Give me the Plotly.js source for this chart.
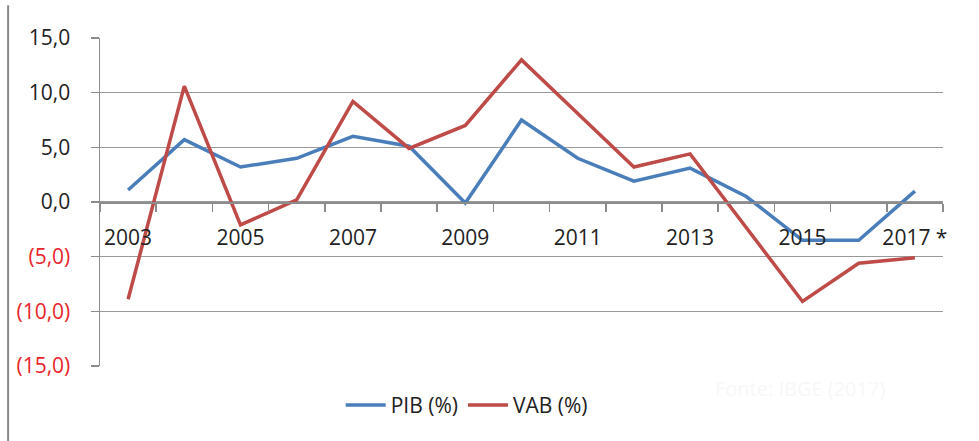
<!DOCTYPE html>
<html>
<head>
<meta charset="utf-8">
<script src="https://cdn.plot.ly/plotly-3.0.1.min.js"></script>
<style>html,body{margin:0;padding:0;background:#fff;}#chart{width:979px;height:441px;}</style>
</head>
<body>
<div id="chart"></div>
<script>
const years = ["2003","2004","2005","2006","2007","2008","2009","2010","2011","2012","2013","2014","2015","2016","2017 *"];
const pib = [1.1, 5.7, 3.2, 4.0, 6.0, 5.1, -0.1, 7.5, 4.0, 1.9, 3.1, 0.5, -3.5, -3.5, 1.0];
const vab = [-8.9, 10.6, -2.1, 0.2, 9.2, 4.9, 7.0, 13.0, 8.1, 3.2, 4.4, -2.3, -9.1, -5.6, -5.1];
const yTickVals = [15, 10, 5, 0, -5, -10, -15];
const yTickText = ["15,0", "10,0", "5,0", "0,0",
  '<span style="color:#e8262a">(5,0)</span>',
  '<span style="color:#e8262a">(10,0)</span>',
  '<span style="color:#e8262a">(15,0)</span>'];
const xLabelIdx = [0, 2, 4, 6, 8, 10, 12, 14];

const idx = years.map((_, i) => i);
const font = {family: "Open Sans, sans-serif", size: 21, color: "#222"};

const traces = [
  {x: idx, y: pib, name: "PIB (%)", type: "scatter", mode: "lines",
   line: {color: "#4a7ebb", width: 3.5}},
  {x: idx, y: vab, name: "VAB (%)", type: "scatter", mode: "lines",
   line: {color: "#be4b48", width: 3.5}}
];

const layout = {
  width: 979, height: 441,
  margin: {l: 100, r: 36, t: 38, b: 75},
  paper_bgcolor: "#fff", plot_bgcolor: "#fff",
  font: font,
  showlegend: true,
  legend: {orientation: "h", x: 0.435, xanchor: "center", y: -0.12, yanchor: "middle",
           font: font, itemwidth: 40, tracegroupgap: 0},
  xaxis: {
    range: [-0.5, 14.5], anchor: "free", position: 0.5,
    showgrid: false, zeroline: false,
    showline: true, linecolor: "#8c8c8c", linewidth: 1.5,
    tickmode: "array", tickvals: xLabelIdx, ticktext: xLabelIdx.map(i => years[i]),
    ticks: "outside", ticklen: 16, tickcolor: "rgba(0,0,0,0)",
    tickfont: font,
    minor: {tick0: -0.5, dtick: 1, ticks: "outside", ticklen: 8, tickcolor: "#8c8c8c", tickwidth: 1.5, showgrid: false}
  },
  yaxis: {
    range: [-15, 15], showgrid: true, gridcolor: "#9a9a9a", gridwidth: 1.3,
    zeroline: false, showline: true, linecolor: "#8c8c8c", linewidth: 1.5,
    tickmode: "array", tickvals: yTickVals, ticktext: yTickText,
    ticks: "outside", ticklen: 8, tickcolor: "#8c8c8c", tickwidth: 1.5,
    ticklabelstandoff: 16, tickfont: font
  },
  shapes: [
    {type: "line", xref: "paper", yref: "paper", x0: -0.109, x1: -0.109, y0: 1.1, y1: -0.23,
     line: {color: "#888", width: 2}}
  ],
  annotations: [
    {text: "Fonte: IBGE (2017)", xref: "paper", yref: "paper", x: 0.83, y: -0.07,
     xanchor: "center", yanchor: "middle", showarrow: false,
     font: {family: "Open Sans, sans-serif", size: 20, color: "#f7f7f7"}}
  ]
};

Plotly.newPlot("chart", traces, layout, {displayModeBar: false, staticPlot: true});
</script>
</body>
</html>
